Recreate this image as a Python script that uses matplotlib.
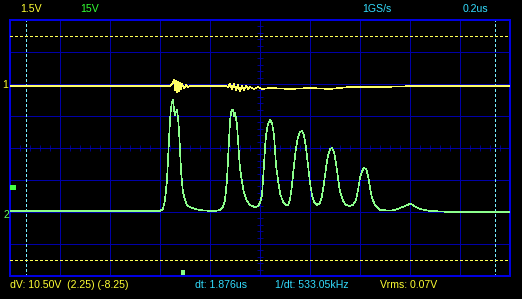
#! -*- coding: utf-8 -*-

#---------------------------------
# Imports
#---------------------------------
import numpy as np
import matplotlib
matplotlib.use('Agg')
import matplotlib.pyplot as plt

#---------------------------------
# Data (time in ns, voltage in V)
#---------------------------------
# CH1 (yellow), 1.5 V/div
ch1_time = [0, 640, 648, 656, 660, 664, 668, 672, 676, 680, 684, 688, 696, 704, 712, 720,
            860, 872, 880, 888, 896, 904, 912, 920, 928, 936, 944, 952, 960, 976, 992, 1008,
            1040, 1120, 1200, 1280, 1360, 1480, 1640, 2004]
ch1_volt = [-0.09, -0.09, 0.0, 0.19, -0.28, 0.14, -0.38, 0.09, -0.33, 0.05, -0.23, 0.0, -0.19, -0.05, -0.14, -0.09,
            -0.09, -0.14, 0.0, -0.23, 0.0, -0.28, -0.05, -0.33, -0.09, -0.28, -0.09, -0.23, -0.14, -0.23, -0.14, -0.23,
            -0.19, -0.23, -0.19, -0.23, -0.14, -0.14, -0.09, -0.09]

# CH2 (green), 15 V/div
ch2_time = [0, 600, 612, 620, 628, 632, 636, 640, 644, 648, 652, 656, 660, 664, 668, 672, 676, 680, 684, 688,
            692, 700, 708, 720, 740, 760, 800, 820, 840, 852, 860, 868, 872, 876, 880, 884, 888, 892, 896, 900,
            904, 908, 912, 916, 920, 928, 936, 948, 960, 980, 992, 1000, 1008, 1012, 1016, 1020, 1024, 1032, 1040,
            1048, 1056, 1060, 1064, 1072, 1080, 1092, 1104, 1112, 1120, 1128, 1136, 1144, 1152, 1160, 1168, 1176,
            1184, 1192, 1200, 1208, 1216, 1228, 1240, 1248, 1256, 1264, 1272, 1280, 1288, 1296, 1304, 1312, 1320,
            1332, 1344, 1360, 1372, 1384, 1392, 1400, 1408, 1416, 1424, 1432, 1440, 1448, 1460, 1480, 1520, 1540,
            1560, 1580, 1600, 1612, 1624, 1640, 1680, 1760, 2004]
ch2_volt = [0.5, 0.5, 1.4, 5.6, 15.0, 24.4, 33.8, 43.1, 48.8, 51.6, 52.5, 47.8, 45.5, 46.9, 47.8, 44.1, 38.4, 29.1, 19.7, 13.6,
            9.4, 5.6, 3.3, 2.3, 1.4, 0.9, 0.5, 0.5, 0.9, 2.3, 5.6, 15.0, 24.4, 33.8, 42.2, 46.9, 47.8, 47.8, 45.0, 46.4,
            44.1, 40.8, 33.8, 26.7, 20.6, 14.1, 8.9, 5.2, 3.3, 2.3, 2.8, 4.2, 8.0, 15.0, 22.0, 30.0, 36.1, 41.3, 43.1,
            41.7, 36.1, 29.1, 22.0, 15.0, 8.9, 4.7, 3.3, 3.3, 5.6, 12.7, 22.0, 30.0, 35.2, 37.5, 37.9, 36.1,
            30.0, 22.0, 13.6, 8.0, 4.7, 3.3, 4.2, 7.5, 13.6, 20.6, 26.7, 29.5, 30.0, 28.1, 23.0, 15.9, 9.4,
            5.2, 3.3, 2.8, 3.3, 5.6, 10.3, 15.9, 19.2, 20.6, 20.2, 17.3, 11.3, 6.6, 3.3, 0.9, 0.7, 0.9,
            1.9, 2.8, 3.8, 3.3, 2.3, 1.4, 0.5, 0.0, 0.0]

# --- channel settings / cursors ---
CH1_VDIV, CH1_OFFSET = 1.5, 2.0      # offset in divisions
CH2_VDIV, CH2_OFFSET = 15.0, -2.0
CURSOR_V = [2.25, -8.25]             # CH1 volts
CURSOR_T = [64, 1940]                # ns
TRIG_LEVEL = 11.7                    # CH2 volts
TRIG_POS = 692                       # ns

top_labels = [('1.5V', 20, '#ffff33'), ('15V', 80, '#33ff33'), ('1GS/s', 362, '#33ddff'), ('0.2us', 463, '#33ddff')]
bottom_labels = [('dV: 10.50V  (2.25) (-8.25)', 10, '#ffff33'), ('dt: 1.876us', 195, '#33ddff'),
                 ('1/dt: 533.05kHz', 275, '#33ddff'), ('Vrms: 0.07V', 380, '#ffff33')]

#---------------------------------
# Constants (style)
#---------------------------------
W, H = 522, 299
GRID_COLOR = '#0000a8'
FRAME_COLOR = '#0000e0'
FONT = ['Liberation Sans', 'DejaVu Sans']
plt.rcParams['lines.antialiased'] = False


def draw_scope():
    fig = plt.figure(figsize=(W / 100, H / 100), dpi=100, facecolor='black')
    ax = fig.add_axes([10 / W, (H - 276) / H, 500 / W, 256 / H])
    ax.set_facecolor('black')
    ax.set_xlim(0, 2000)
    ax.set_ylim(-4, 4)

    # --- grid ---
    ax.set_xticks(np.arange(0, 2001, 200))
    ax.set_yticks(np.arange(-4, 5, 1))
    ax.grid(color=GRID_COLOR, lw=0.6, antialiased=False)
    ax.tick_params(length=0, labelbottom=False, labelleft=False)
    for sp in ax.spines.values():
        sp.set_color(FRAME_COLOR)
        sp.set_linewidth(1.3)
        sp.set_antialiased(False)
    ax.plot(np.arange(0, 2001, 40), np.zeros(51), ls='none', marker='|', ms=3.8, mew=0.6, color=GRID_COLOR)
    ax.plot(np.full(41, 1000), np.arange(-4, 4.01, 0.2), ls='none', marker='_', ms=3.8, mew=0.6, color=GRID_COLOR)

    # --- channel axes ---
    ax1 = ax.twinx()
    ax1.set_ylim((-4 - CH1_OFFSET) * CH1_VDIV, (4 - CH1_OFFSET) * CH1_VDIV)
    ax2 = ax.twinx()
    ax2.set_ylim((-4 - CH2_OFFSET) * CH2_VDIV, (4 - CH2_OFFSET) * CH2_VDIV)
    for a in (ax1, ax2):
        a.axis('off')

    # --- cursors ---
    for v in CURSOR_V:
        ax1.axhline(v, color='#ffff55', lw=0.6, ls=(0, (3, 3)))
    for t in CURSOR_T:
        ax.axvline(t, color='#77eeff', lw=0.6, ls=(0, (3, 3)))

    # --- traces ---
    ax1.plot(ch1_time, ch1_volt, color='#ffff66', lw=0.45)
    ax2.plot(ch2_time, ch2_volt, color='#8cff8c', lw=0.45)

    # --- markers ---
    ax2.plot([0, 20], [TRIG_LEVEL, TRIG_LEVEL], color='#44ff44', lw=2.2, solid_capstyle='butt', clip_on=False)
    ax.plot([TRIG_POS, TRIG_POS], [-4, -3.8], color='#88ff88', lw=1.5, solid_capstyle='butt')

    # --- labels ---
    fig.text(2 / W, 1 - 85 / H, '1', color='#ffff33', fontsize=7.6, family=FONT, va='center')
    fig.text(3 / W, 1 - 215 / H, '2', color='#66ff66', fontsize=7.6, family=FONT, va='center')
    for s, x, c in top_labels:
        fig.text(x / W, 1 - 9.5 / H, s, color=c, fontsize=7.6, family=FONT, va='center')
    for s, x, c in bottom_labels:
        fig.text(x / W, 1 - 285.5 / H, s, color=c, fontsize=7.6, family=FONT, va='center')

    fig.savefig('out.png', dpi=100, facecolor='black')
    plt.close(fig)


def main():
    draw_scope()


if __name__ == '__main__':
    main()
